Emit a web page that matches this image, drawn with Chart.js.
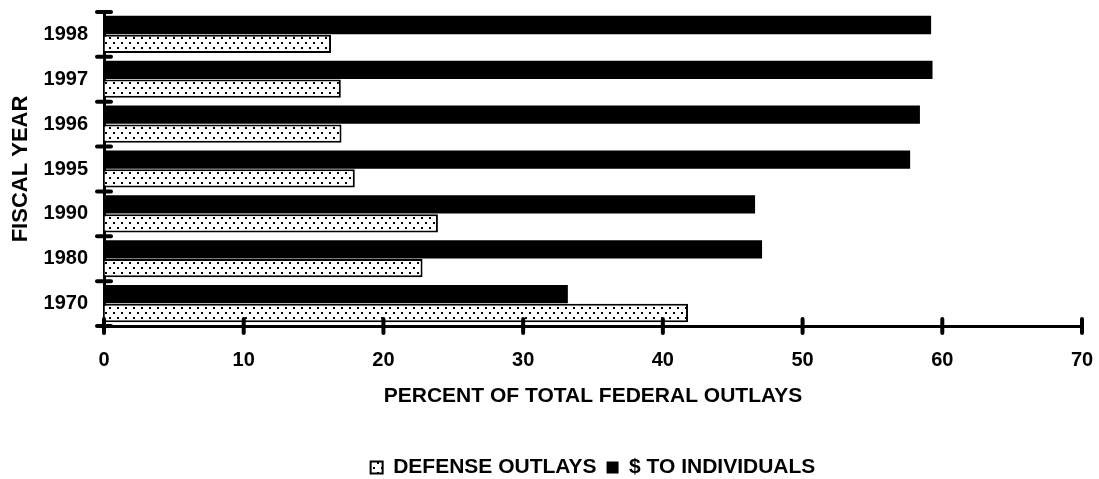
<!DOCTYPE html>
<html>
<head>
<meta charset="utf-8">
<script src="https://cdn.jsdelivr.net/npm/chart.js@4/dist/chart.umd.min.js"></script>
<style>
  html, body { margin: 0; padding: 0; background: #fff; }
  #wrap { width: 1099px; height: 479px; }
</style>
</head>
<body>
<div id="wrap"><canvas id="chart" width="1099" height="479"></canvas></div>
<script>
const years = ["1998", "1997", "1996", "1995", "1990", "1980", "1970"];
const toIndividuals = [59.2, 59.3, 58.4, 57.7, 46.6, 47.1, 33.2];
const defenseOutlays = [16.25, 16.95, 17.0, 17.95, 23.9, 22.8, 41.8];
const xTicks = [0, 10, 20, 30, 40, 50, 60, 70];

const FONT = "Arial, 'Liberation Sans', sans-serif";

// dotted fill like the old print pattern
function makeDots() {
    const c = document.createElement("canvas");
    c.width = 8;
    c.height = 10;
    const g = c.getContext("2d");
    g.fillStyle = "#fff";
    g.fillRect(0, 0, 8, 10);
    g.fillStyle = "#000";
    g.fillRect(1, 2, 2, 2);
    g.fillRect(5, 7, 2, 2);
    return g.createPattern(c, "repeat");
}
const dots = makeDots();

// tick marks that cross the axis lines, with round ends
const crossTicks = {
    id: "crossTicks",
    afterDraw(chart) {
        const { ctx, chartArea, scales } = chart;
        ctx.save();
        ctx.strokeStyle = "#000";
        ctx.lineWidth = 4;
        ctx.lineCap = "round";
        const x = scales.x, y = scales.y;
        xTicks.forEach(v => {
            const px = x.getPixelForValue(v);
            ctx.beginPath();
            ctx.moveTo(px, chartArea.bottom - 7);
            ctx.lineTo(px, chartArea.bottom + 7);
            ctx.stroke();
        });
        for (let i = 0; i <= years.length; i++) {
            const py = y.getPixelForValue(i - 0.5);
            ctx.beginPath();
            ctx.moveTo(chartArea.left - 7, py);
            ctx.lineTo(chartArea.left + 7, py);
            ctx.stroke();
        }
        ctx.restore();
    }
};

function noEdgePadding(scale) {
    scale.paddingTop = 0;
    scale.paddingBottom = 0;
    scale.paddingLeft = 0;
    scale.paddingRight = 0;
}

new Chart(document.getElementById("chart"), {
    type: "bar",
    data: {
        labels: years,
        datasets: [
            {
                label: "$ TO INDIVIDUALS",
                data: toIndividuals,
                backgroundColor: "#000",
                borderColor: "#000",
                borderWidth: 0,
                categoryPercentage: 0.84,
                barPercentage: 0.97
            },
            {
                label: "DEFENSE OUTLAYS",
                data: defenseOutlays,
                backgroundColor: dots,
                borderColor: "#000",
                borderWidth: 2,
                categoryPercentage: 0.84,
                barPercentage: 0.97
            }
        ]
    },
    options: {
        indexAxis: "y",
        responsive: false,
        animation: false,
        layout: { padding: { top: 12, right: 17, left: 0, bottom: -9 } },
        plugins: {
            tooltip: { enabled: false },
            legend: {
                position: "bottom",
                fullSize: false,
                reverse: true,
                labels: {
                    color: "#000",
                    boxWidth: 12,
                    boxHeight: 12,
                    padding: 10,
                    font: { family: FONT, size: 21, weight: "bold" }
                }
            }
        },
        scales: {
            x: {
                min: 0,
                max: 70,
                afterBuildTicks(scale) {
                    scale.ticks = xTicks.map(v => ({ value: v }));
                },
                afterFit(scale) {
                    scale.height = 121;
                    noEdgePadding(scale);
                },
                grid: { display: true, drawOnChartArea: false, drawTicks: false },
                border: { display: true, color: "#000", width: 3 },
                ticks: {
                    color: "#000",
                    padding: 22,
                    font: { family: FONT, size: 20, weight: "bold" }
                },
                title: {
                    display: true,
                    text: "PERCENT OF TOTAL FEDERAL OUTLAYS",
                    color: "#000",
                    padding: { top: 0, bottom: 38 },
                    font: { family: FONT, size: 21, weight: "bold" }
                }
            },
            y: {
                afterFit(scale) {
                    scale.width = 104;
                    noEdgePadding(scale);
                },
                grid: { display: true, drawOnChartArea: false, drawTicks: false },
                border: { display: true, color: "#000", width: 3 },
                ticks: {
                    color: "#000",
                    padding: 16,
                    font: { family: FONT, size: 20, weight: "bold" }
                },
                title: {
                    display: true,
                    text: "FISCAL YEAR",
                    color: "#000",
                    padding: { top: 8, bottom: 0 },
                    font: { family: FONT, size: 22, weight: "bold" }
                }
            }
        }
    },
    plugins: [crossTicks]
});
</script>
</body>
</html>
